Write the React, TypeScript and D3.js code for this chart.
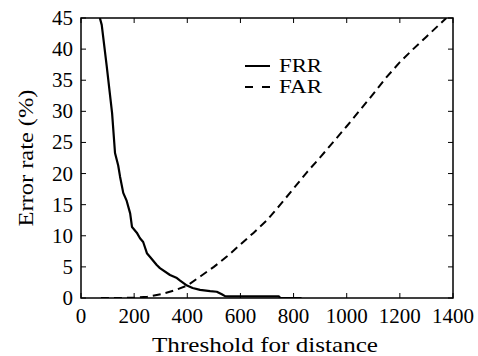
import React from "react";
import * as d3 from "d3";

const frrX = [71, 78, 97, 117, 128, 140, 147, 159, 172, 185, 192, 210, 222, 234, 248, 260, 285, 297, 335, 361, 373, 399, 420, 448, 486, 511, 530, 542, 560, 600, 650, 700, 745, 750, 830];
const frrY = [45, 43.9, 37.2, 29.7, 23.3, 21.3, 19.5, 16.9, 15.6, 13.6, 11.4, 10.5, 9.6, 9.0, 7.2, 6.6, 5.3, 4.8, 3.7, 3.2, 2.8, 2.0, 1.6, 1.3, 1.1, 1.0, 0.6, 0.3, 0.25, 0.25, 0.25, 0.25, 0.25, 0, 0];

const farX = [75, 150, 200, 250, 300, 350, 400, 450, 500, 550, 600, 650, 700, 750, 800, 850, 900, 950, 1000, 1050, 1100, 1150, 1200, 1250, 1300, 1350, 1375];
const farY = [0, 0, 0.05, 0.2, 0.6, 1.2, 2.0, 3.5, 5.0, 6.7, 8.6, 10.5, 12.5, 15.0, 17.6, 20.2, 22.6, 25.1, 27.6, 30.2, 32.8, 35.5, 37.9, 40.0, 42.0, 44.0, 45];

const xTicks = [0, 200, 400, 600, 800, 1000, 1200, 1400];
const yTicks = [0, 5, 10, 15, 20, 25, 30, 35, 40, 45];
const legendLabels = ["FRR", "FAR"];
const xLabel = "Threshold for distance";
const yLabel = "Error rate (%)";

export default function App() {
  const W = 478, H = 356;
  const L = 81, R = 453, T = 18, B = 298;
  const x = d3.scaleLinear().domain([0, 1400]).range([L, R]);
  const y = d3.scaleLinear().domain([0, 45]).range([B, T]);
  const line = d3.line<[number, number]>().x((d) => x(d[0])).y((d) => y(d[1]));
  const frr = line(frrX.map((v, i) => [v, frrY[i]] as [number, number])) || "";
  const far = line(farX.map((v, i) => [v, farY[i]] as [number, number])) || "";
  const tl = 5;

  return (
    <div style={{ position: "absolute", left: 0, top: 0, width: W, height: H, background: "#fff" }}>
      <svg width={W} height={H}>
        <defs>
          <clipPath id="plotClip">
            <rect x={L} y={T} width={R - L} height={B - T} />
          </clipPath>
        </defs>
        <g clipPath="url(#plotClip)">
          <path d={far} fill="none" stroke="#000" strokeWidth={2} strokeDasharray="8,5" />
          <path d={frr} fill="none" stroke="#000" strokeWidth={2.2} strokeLinejoin="round" />
        </g>
        <rect x={L} y={T} width={R - L} height={B - T} fill="none" stroke="#000" strokeWidth={1.5} />
        {xTicks.map((t) => (
          <g key={"xt" + t}>
            <line x1={x(t)} x2={x(t)} y1={B} y2={B - tl} stroke="#000" strokeWidth={1} />
            <line x1={x(t)} x2={x(t)} y1={T} y2={T + tl} stroke="#000" strokeWidth={1} />
            <text x={x(t)} y={323} textAnchor="middle" fontSize={21} style={{ fontFamily: `"Liberation Serif"` }}>{String(t)}</text>
          </g>
        ))}
        {yTicks.map((t) => (
          <g key={"yt" + t}>
            <line x1={L} x2={L + tl} y1={y(t)} y2={y(t)} stroke="#000" strokeWidth={1} />
            <line x1={R} x2={R - tl} y1={y(t)} y2={y(t)} stroke="#000" strokeWidth={1} />
            <text x={73} y={y(t) + 7} textAnchor="end" fontSize={21} style={{ fontFamily: `"Liberation Serif"` }}>{String(t)}</text>
          </g>
        ))}
        <text x={265} y={352} textAnchor="middle" fontSize={22} style={{ fontFamily: `"Liberation Serif"` }} textLength={226} lengthAdjust="spacingAndGlyphs">{xLabel}</text>
        <text transform={`translate(33, ${(T + B) / 2}) rotate(-90)`} textAnchor="middle" fontSize={22} style={{ fontFamily: `"Liberation Serif"` }} textLength={137} lengthAdjust="spacingAndGlyphs">{yLabel}</text>
        <line x1={245} x2={270} y1={66} y2={66} stroke="#000" strokeWidth={2} />
        <text x={279} y={72} fontSize={19} style={{ fontFamily: `"Liberation Serif"` }} textLength={43} lengthAdjust="spacingAndGlyphs">{legendLabels[0]}</text>
        <line x1={245} x2={270} y1={87} y2={87} stroke="#000" strokeWidth={2} strokeDasharray="8,9" />
        <text x={279} y={93} fontSize={19} style={{ fontFamily: `"Liberation Serif"` }} textLength={43} lengthAdjust="spacingAndGlyphs">{legendLabels[1]}</text>
      </svg>
    </div>
  );
}
